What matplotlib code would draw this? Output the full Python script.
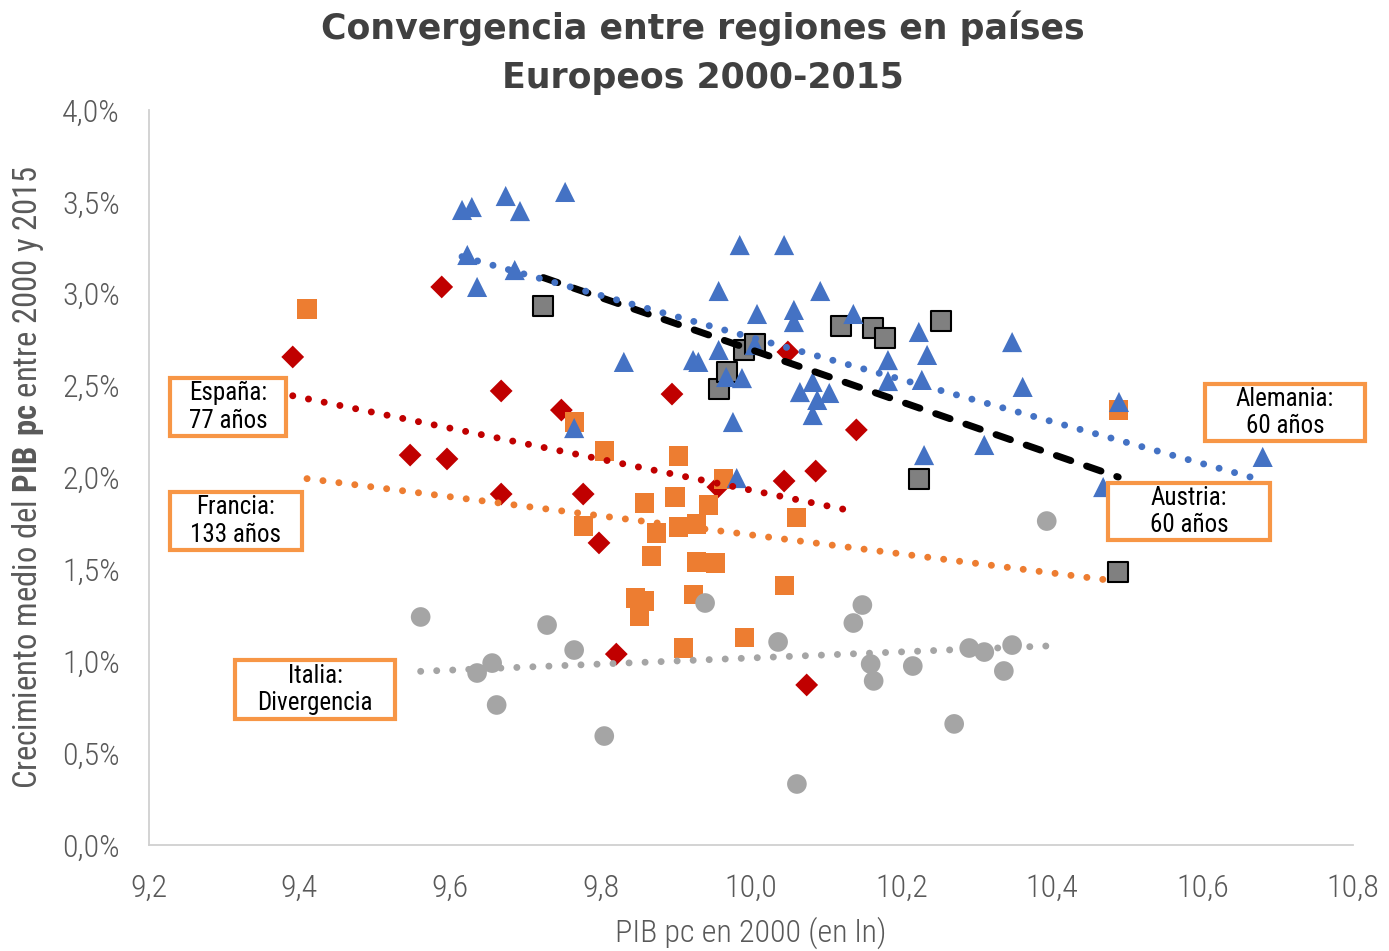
import numpy as np
import matplotlib
matplotlib.use("Agg")
import matplotlib.pyplot as plt
from matplotlib import font_manager
from matplotlib.patches import Rectangle

# ---------------- data ----------------
alemania_x = [9.616, 9.629, 9.674, 9.693, 9.753, 9.623, 9.636, 9.686, 9.985, 10.044,
              9.957, 10.092, 10.008, 10.057, 10.057, 10.136, 10.182, 10.182, 10.223, 10.234,
              10.227, 10.347, 10.361, 10.489, 10.310, 10.230, 10.468, 10.680, 9.831, 9.923,
              9.930, 9.957, 9.967, 9.988, 9.976, 10.065, 10.082, 10.104, 10.088, 10.082,
              10.005, 9.765, 9.981]
alemania_y = [3.456, 3.472, 3.532, 3.450, 3.554, 3.211, 3.037, 3.129, 3.265, 3.265,
              3.015, 3.015, 2.890, 2.912, 2.846, 2.890, 2.639, 2.525, 2.792, 2.667,
              2.531, 2.737, 2.493, 2.411, 2.177, 2.122, 1.948, 2.112, 2.629, 2.639,
              2.629, 2.694, 2.547, 2.541, 2.302, 2.465, 2.520, 2.460, 2.422, 2.340,
              2.721, 2.269, 1.997]

espana_x = [9.391, 9.589, 9.668, 9.748, 9.895, 10.049, 10.140, 9.547, 9.596, 10.044,
            10.086, 9.668, 9.777, 9.798, 9.956, 9.821, 10.074]
espana_y = [2.656, 3.037, 2.471, 2.367, 2.454, 2.683, 2.259, 2.122, 2.101, 1.981,
            2.035, 1.910, 1.910, 1.644, 1.948, 1.039, 0.871]

francia_x = [9.410, 9.765, 9.805, 9.904, 9.963, 9.858, 9.899, 9.944, 9.777, 9.874,
             9.904, 9.928, 10.061, 9.868, 9.928, 9.953, 10.044, 9.847, 9.858, 9.852,
             9.924, 9.910, 9.991, 10.488]
francia_y = [2.917, 2.302, 2.144, 2.117, 1.992, 1.861, 1.894, 1.850, 1.736, 1.698,
             1.731, 1.747, 1.780, 1.573, 1.540, 1.535, 1.410, 1.344, 1.328, 1.246,
             1.361, 1.072, 1.127, 2.367]

italia_x = [9.561, 9.729, 9.765, 9.656, 9.636, 9.662, 9.805, 9.939, 10.036, 10.061,
            10.393, 10.148, 10.136, 10.159, 10.163, 10.215, 10.290, 10.310, 10.347, 10.336,
            10.270]
italia_y = [1.241, 1.197, 1.061, 0.990, 0.936, 0.762, 0.593, 1.317, 1.105, 0.332,
            1.763, 1.306, 1.208, 0.985, 0.893, 0.974, 1.072, 1.050, 1.088, 0.947,
            0.659]

austria_x = [9.724, 9.957, 9.968, 9.991, 10.005, 10.120, 10.162, 10.178, 10.252, 10.223, 10.488]
austria_y = [2.933, 2.482, 2.574, 2.694, 2.727, 2.824, 2.814, 2.759, 2.852, 1.992, 1.486]

x_ticks = [9.2, 9.4, 9.6, 9.8, 10.0, 10.2, 10.4, 10.6, 10.8]
y_ticks = [0.0, 0.5, 1.0, 1.5, 2.0, 2.5, 3.0, 3.5, 4.0]

title = "Convergencia entre regiones en países\nEuropeos 2000-2015"
xlabel = "PIB pc en 2000 (en ln)"
box_texts = ["España:\n77 años", "Francia:\n133 años", "Italia:\nDivergencia",
             "Alemania:\n60 años", "Austria:\n60 años"]

# ---------------- fonts ----------------
avail = {f.name for f in font_manager.fontManager.ttflist}
def pick(*names):
    for n in names:
        if n in avail:
            return n
    return "DejaVu Sans"
narrow = pick("Liberation Sans Narrow", "Roboto Condensed", "Open Sans", "Roboto")
title_font = pick("DejaVu Sans")
plt.rcParams["mathtext.fontset"] = "custom"
plt.rcParams["mathtext.rm"] = narrow
plt.rcParams["mathtext.bf"] = narrow + ":bold"

W, H = 1389, 951
fig = plt.figure(figsize=(W / 100, H / 100), dpi=100)
ax = fig.add_axes([149 / W, 1 - 845 / H, (1353 - 149) / W, (845 - 110) / H])

BLUE = "#4472C4"
ORANGE = "#ED7D31"
GREY = "#A5A5A5"
RED = "#C00000"
AUS = "#808080"

ax.scatter(espana_x, espana_y, marker="D", s=135, color=RED, edgecolors="none", zorder=3)
ax.scatter(francia_x, francia_y, marker="s", s=190, color=ORANGE, edgecolors="none", zorder=4)
ax.scatter(italia_x, italia_y, marker="o", s=200, color=GREY, edgecolors="none", zorder=5)
ax.scatter(austria_x, austria_y, marker="s", s=210, color=AUS, edgecolors="black",
           linewidths=1.5, zorder=6)
ax.scatter(alemania_x, alemania_y, marker="^", s=210, color=BLUE, edgecolors="none", zorder=7)

def trend(xs, ys, color, style, z):
    xs = np.asarray(xs); ys = np.asarray(ys)
    m, b = np.polyfit(xs, ys, 1)
    xx = np.array([xs.min(), xs.max()])
    if style == "dot":
        ax.plot(xx, m * xx + b, color=color, lw=5, linestyle=(0, (0.01, 2.3)),
                dash_capstyle="round", zorder=z)
    else:
        ax.plot(xx, m * xx + b, color=color, lw=5, linestyle=(0, (2.2, 2.4)),
                dash_capstyle="round", zorder=z)

trend(espana_x, espana_y, RED, "dot", 8)
trend(francia_x, francia_y, ORANGE, "dot", 8)
trend(italia_x, italia_y, GREY, "dot", 8)
trend(austria_x, austria_y, "black", "dash", 9)
trend(alemania_x, alemania_y, BLUE, "dot", 10)

ax.set_xlim(9.2, 10.8)
ax.set_ylim(0, 4.0)
ax.set_xticks(x_ticks)
ax.set_yticks(y_ticks)
ax.set_xticklabels([f"{v:.1f}".replace(".", ",") for v in x_ticks])
ax.set_yticklabels([f"{v:.1f}%".replace(".", ",") for v in y_ticks])
ax.tick_params(length=0, labelsize=23, labelcolor="#595959", pad=21)
for lab in ax.get_xticklabels() + ax.get_yticklabels():
    lab.set_fontfamily(narrow)
    lab.set_fontweight("light")
for s in ["top", "right"]:
    ax.spines[s].set_visible(False)
for s in ["left", "bottom"]:
    ax.spines[s].set_color("#D0D0D0")
    ax.spines[s].set_linewidth(1.3)

fig.text(703 / W, 1 - 53 / H, title, ha="center", va="center", fontsize=25,
         fontweight="bold", color="#404040", family=title_font, linespacing=1.55)
fig.text(751 / W, 1 - 933 / H, xlabel, ha="center", va="center", fontsize=23,
         color="#595959", family=narrow, fontweight="light")
fig.text(28 / W, 1 - 477 / H,
         r"Crecimiento medio del $\mathbf{PIB\ pc}$ entre 2000 y 2015",
         ha="center", va="center", rotation=90, fontsize=23.5, color="#595959",
         family=narrow)

boxes = [(170, 378, 286, 436), (170, 492, 302, 550), (235, 660, 395, 719),
         (1205, 384, 1365, 441), (1108, 483, 1270, 540)]
for (x0, y0, x1, y1), t in zip(boxes, box_texts):
    r = Rectangle((x0 / W, 1 - y1 / H), (x1 - x0) / W, (y1 - y0) / H,
                  transform=fig.transFigure, facecolor="white", edgecolor="#F79646",
                  linewidth=3, zorder=20)
    fig.add_artist(r)
    fig.text((x0 + x1) / 2 / W, 1 - (y0 + y1) / 2 / H, t, ha="center", va="center",
             fontsize=18, color="black", family=narrow, linespacing=1.2, zorder=21)

fig.savefig("out.png", dpi=100)
